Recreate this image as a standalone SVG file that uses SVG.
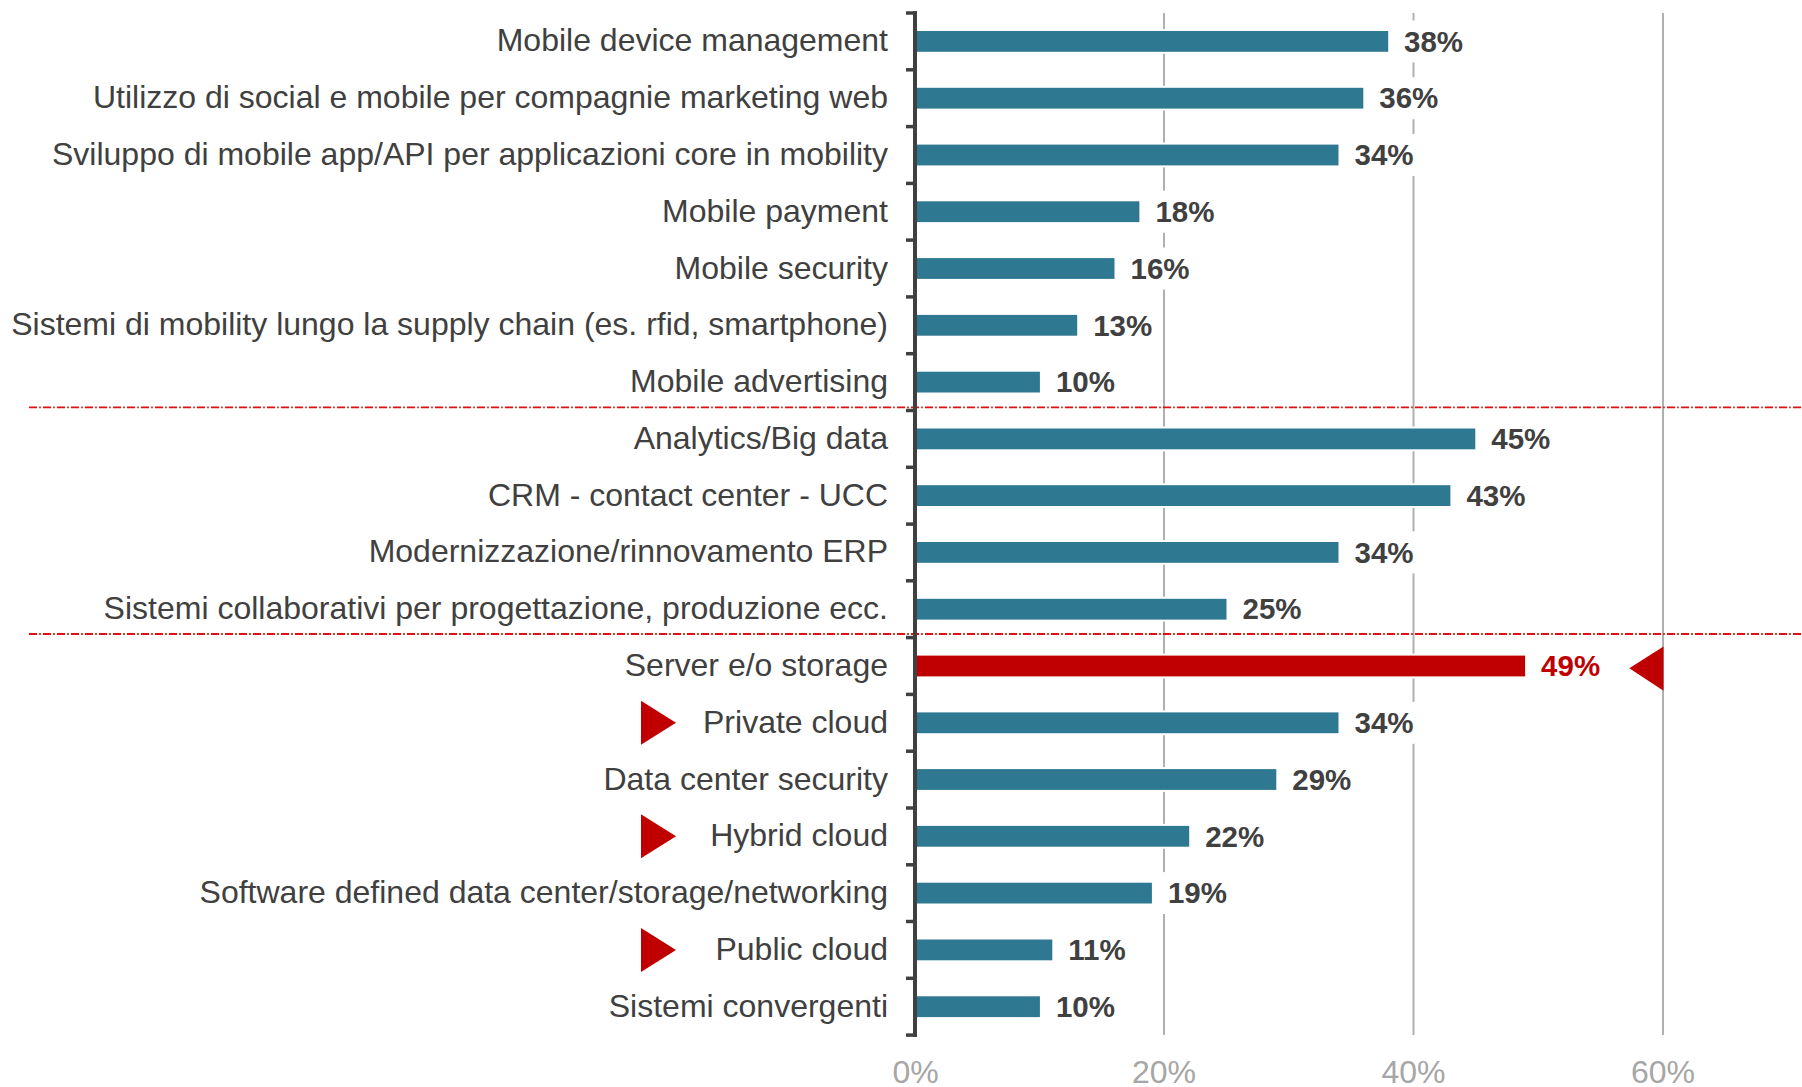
<svg xmlns="http://www.w3.org/2000/svg" width="1802" height="1087" viewBox="0 0 1802 1087">
<style>
.lbl{font-family:"Liberation Sans",Arial,sans-serif;font-size:32px;fill:#404040;text-anchor:end}
.val{font-family:"Liberation Sans",Arial,sans-serif;font-size:29.5px;font-weight:bold;fill:#404040}
.valr{fill:#c00000}
.ax{font-family:"Liberation Sans",Arial,sans-serif;font-size:32px;fill:#a6a6a6;text-anchor:middle}
.bar{fill:#2e7891;stroke:#fff;stroke-width:4;paint-order:stroke}
.barr{fill:#c00000;stroke:#fff;stroke-width:4;paint-order:stroke}
.grid{stroke:#b0b0b0;stroke-width:2}
.sep{stroke:#e01010;stroke-width:1.8;stroke-dasharray:8 2.2 1.6 2.2}
.box{fill:#fff}
.tick{stroke:#404040;stroke-width:3.5}
.tri{fill:#c00000}
</style>
<rect width="1802" height="1087" fill="#fff"/>
<g id="gridlines">
<line class="grid" x1="1164" y1="13" x2="1164" y2="1035"/>
<line class="grid" x1="1413.5" y1="13" x2="1413.5" y2="1035"/>
<line class="grid" x1="1663" y1="13" x2="1663" y2="1035"/>
</g>
<g id="separators">
<line class="sep" x1="29" y1="407.3" x2="1802" y2="407.3"/>
<line class="sep" x1="29" y1="634" x2="1802" y2="634"/>
</g>
<g id="bars">
<rect class="bar" x="915.5" y="31" width="472.7" height="20.8"/>
<rect class="bar" x="915.5" y="87.8" width="447.8" height="20.8"/>
<rect class="bar" x="915.5" y="144.6" width="423" height="20.8"/>
<rect class="bar" x="915.5" y="201.3" width="223.9" height="20.8"/>
<rect class="bar" x="915.5" y="258.1" width="199" height="20.8"/>
<rect class="bar" x="915.5" y="314.9" width="161.7" height="20.8"/>
<rect class="bar" x="915.5" y="371.7" width="124.4" height="20.8"/>
<rect class="bar" x="915.5" y="428.5" width="559.8" height="20.8"/>
<rect class="bar" x="915.5" y="485.2" width="534.9" height="20.8"/>
<rect class="bar" x="915.5" y="542" width="423" height="20.8"/>
<rect class="bar" x="915.5" y="598.8" width="311" height="20.8"/>
<rect class="barr" x="915.5" y="655.6" width="609.6" height="20.8"/>
<rect class="bar" x="915.5" y="712.4" width="423" height="20.8"/>
<rect class="bar" x="915.5" y="769.1" width="360.8" height="20.8"/>
<rect class="bar" x="915.5" y="825.9" width="273.7" height="20.8"/>
<rect class="bar" x="915.5" y="882.7" width="236.4" height="20.8"/>
<rect class="bar" x="915.5" y="939.5" width="136.8" height="20.8"/>
<rect class="bar" x="915.5" y="996.3" width="124.4" height="20.8"/>
</g>
<g id="axis">
<line stroke="#404040" stroke-width="4" x1="915" y1="11" x2="915" y2="1037"/>
<g class="tick">
<line x1="906" y1="13" x2="915" y2="13"/>
<line x1="906" y1="69.8" x2="915" y2="69.8"/>
<line x1="906" y1="126.6" x2="915" y2="126.6"/>
<line x1="906" y1="183.4" x2="915" y2="183.4"/>
<line x1="906" y1="240.1" x2="915" y2="240.1"/>
<line x1="906" y1="296.9" x2="915" y2="296.9"/>
<line x1="906" y1="353.7" x2="915" y2="353.7"/>
<line x1="906" y1="410.5" x2="915" y2="410.5"/>
<line x1="906" y1="467.3" x2="915" y2="467.3"/>
<line x1="906" y1="524.1" x2="915" y2="524.1"/>
<line x1="906" y1="580.8" x2="915" y2="580.8"/>
<line x1="906" y1="637.6" x2="915" y2="637.6"/>
<line x1="906" y1="694.4" x2="915" y2="694.4"/>
<line x1="906" y1="751.2" x2="915" y2="751.2"/>
<line x1="906" y1="808" x2="915" y2="808"/>
<line x1="906" y1="864.8" x2="915" y2="864.8"/>
<line x1="906" y1="921.5" x2="915" y2="921.5"/>
<line x1="906" y1="978.3" x2="915" y2="978.3"/>
<line x1="906" y1="1035.1" x2="915" y2="1035.1"/>
</g>
<text class="ax" x="915.5" y="1083">0%</text>
<text class="ax" x="1164" y="1083">20%</text>
<text class="ax" x="1413.5" y="1083">40%</text>
<text class="ax" x="1663" y="1083">60%</text>
</g>
<g id="labels">
<text class="lbl" x="888" y="51.4">Mobile device management</text>
<text class="lbl" x="888" y="108.2">Utilizzo di social e mobile per compagnie marketing web</text>
<text class="lbl" x="888" y="165">Sviluppo di mobile app/API per applicazioni core in mobility</text>
<text class="lbl" x="888" y="221.7">Mobile payment</text>
<text class="lbl" x="888" y="278.5">Mobile security</text>
<text class="lbl" x="888" y="335.3">Sistemi di mobility lungo la supply chain (es. rfid, smartphone)</text>
<text class="lbl" x="888" y="392.1">Mobile advertising</text>
<text class="lbl" x="888" y="448.9">Analytics/Big data</text>
<text class="lbl" x="888" y="505.6">CRM - contact center - UCC</text>
<text class="lbl" x="888" y="562.4">Modernizzazione/rinnovamento ERP</text>
<text class="lbl" x="888" y="619.2">Sistemi collaborativi per progettazione, produzione ecc.</text>
<text class="lbl" x="888" y="676">Server e/o storage</text>
<text class="lbl" x="888" y="732.8">Private cloud</text>
<text class="lbl" x="888" y="789.5">Data center security</text>
<text class="lbl" x="888" y="846.3">Hybrid cloud</text>
<text class="lbl" x="888" y="903.1">Software defined data center/storage/networking</text>
<text class="lbl" x="888" y="959.9">Public cloud</text>
<text class="lbl" x="888" y="1016.7">Sistemi convergenti</text>
</g>
<g id="values">
<rect class="box" x="1399" y="20.4" width="67" height="42"/><text class="val" x="1404" y="51.6">38%</text>
<rect class="box" x="1374" y="77.2" width="67" height="42"/><text class="val" x="1379.3" y="108.4">36%</text>
<rect class="box" x="1349.5" y="134" width="67" height="42"/><text class="val" x="1354.5" y="165.2">34%</text>
<rect class="box" x="1150.4" y="190.7" width="67" height="42"/><text class="val" x="1155.4" y="221.9">18%</text>
<rect class="box" x="1125.5" y="247.5" width="67" height="42"/><text class="val" x="1130.5" y="278.7">16%</text>
<rect class="box" x="1088.2" y="304.3" width="67" height="42"/><text class="val" x="1093.2" y="335.5">13%</text>
<rect class="box" x="1050.9" y="361.1" width="67" height="42"/><text class="val" x="1055.9" y="392.3">10%</text>
<rect class="box" x="1486.3" y="417.9" width="67" height="42"/><text class="val" x="1491.3" y="449.1">45%</text>
<rect class="box" x="1461.4" y="474.6" width="67" height="42"/><text class="val" x="1466.4" y="505.8">43%</text>
<rect class="box" x="1349.5" y="531.4" width="67" height="42"/><text class="val" x="1354.5" y="562.6">34%</text>
<rect class="box" x="1237.5" y="588.2" width="67" height="42"/><text class="val" x="1242.5" y="619.4">25%</text>
<rect class="box" x="1536.1" y="645" width="67" height="42"/><text class="val valr" x="1541.1" y="676.2">49%</text>
<rect class="box" x="1349.5" y="701.8" width="67" height="42"/><text class="val" x="1354.5" y="733">34%</text>
<rect class="box" x="1287.3" y="758.5" width="67" height="42"/><text class="val" x="1292.3" y="789.7">29%</text>
<rect class="box" x="1200.2" y="815.3" width="67" height="42"/><text class="val" x="1205.2" y="846.5">22%</text>
<rect class="box" x="1162.9" y="872.1" width="67" height="42"/><text class="val" x="1167.9" y="903.3">19%</text>
<rect class="box" x="1063.3" y="928.9" width="67" height="42"/><text class="val" x="1068.3" y="960.1">11%</text>
<rect class="box" x="1050.9" y="985.7" width="67" height="42"/><text class="val" x="1055.9" y="1016.9">10%</text>
</g>
<g id="markers">
<polygon class="tri" points="1629.3,668.3 1663.5,646.5 1663.5,690.7"/>
<polygon class="tri" points="641,700.8 676,722.8 641,744.8"/>
<polygon class="tri" points="641,814.3 676,836.3 641,858.3"/>
<polygon class="tri" points="641,927.9 676,949.9 641,971.9"/>
</g>
</svg>
